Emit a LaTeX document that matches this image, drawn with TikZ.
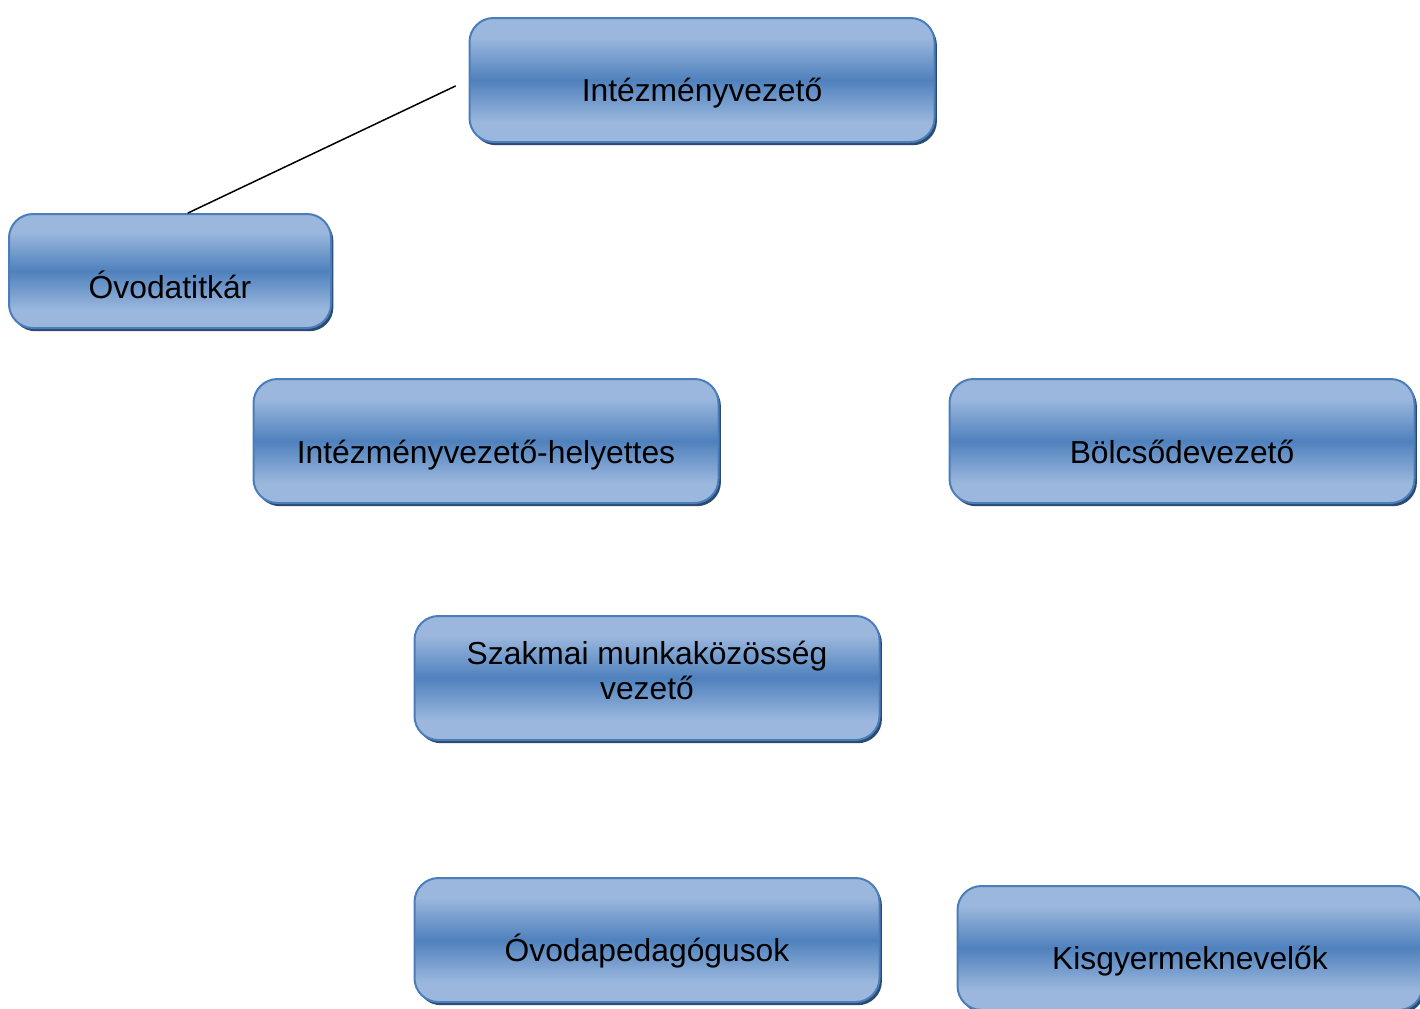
\documentclass[tikz,border=0pt]{standalone}
\usepackage{fontspec}
\setmainfont{Liberation Sans}
\usetikzlibrary{shadows}
\definecolor{boxtop}{HTML}{9BB7DD}
\definecolor{boxmid}{HTML}{4F81BD}
\definecolor{boxline}{HTML}{4A7EBB}
\definecolor{boxshade}{HTML}{2A4A72}
\pgfdeclareverticalshading{boxshading}{100bp}{color(0bp)=(boxtop); color(25bp)=(boxtop);
	color(33bp)=(boxtop); color(50bp)=(boxmid); color(67bp)=(boxtop);
	color(75bp)=(boxtop); color(100bp)=(boxtop)}
\begin{document}
\begin{tikzpicture}[x=0.5pt,y=-0.5pt,line join=round,line cap=round,
	font=\fontsize{15.9}{17.5}\selectfont,
	box/.style={rectangle,rounded corners=12pt,draw=boxline,line width=1pt,
		shading=boxshading,
		minimum width=232.5pt,minimum height=62pt,inner sep=0pt,
		drop shadow={shadow xshift=1.2pt,shadow yshift=-1.6pt,fill=boxshade,opacity=1}}]
	\useasboundingbox (0,0) rectangle (1420,1008);
	\foreach \n/\x/\y/\s/\t in {ivez/702/80/-6.5/Intézményvezető,
		ivhely/486/441/-7/Intézményvezető-helyettes,
		bolcs/1182/441/-5.5/Bölcsődevezető,
		opeda/647/940/-5.5/Óvodapedagógusok,
		kisgy/1190/948/-6.5/Kisgyermeknevelők}
	\node[box,label={[yshift=\s pt]center:\t}] (\n) at (\x,\y) {};
	\node[box,minimum width=161pt,minimum height=57pt,
		label={[yshift=-7pt]center:Óvodatitkár}] (otitkar) at (170,271) {};
	\node[box,label={[yshift=4pt,align=center]center:Szakmai munkaközösség\\vezető}] (szakm) at (647,678) {};
	\draw[line width=0.75pt] ([xshift=-6.5pt,yshift=-3pt]ivez.west) -- ([xshift=9pt]otitkar.north);
\end{tikzpicture}
\end{document}
